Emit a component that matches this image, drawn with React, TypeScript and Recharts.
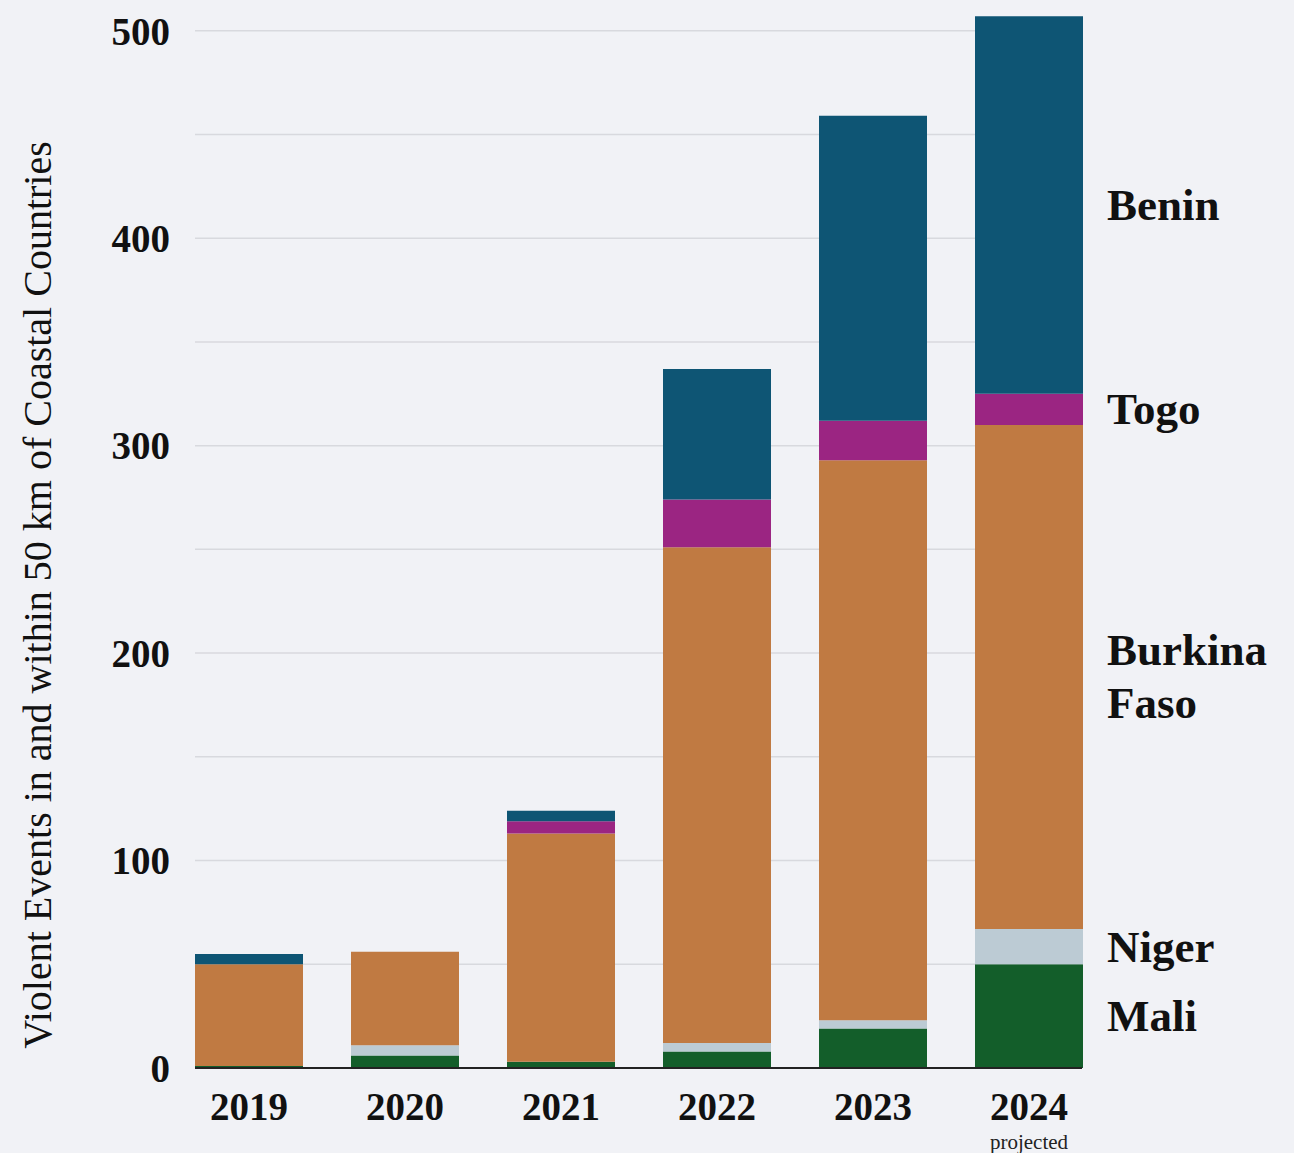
import { BarChart, Bar, XAxis, YAxis, CartesianGrid, LabelList } from 'recharts'

// events per year, stacked bottom to top
const years = ['2019', '2020', '2021', '2022', '2023', '2024']
const mali = [1, 6, 3, 8, 19, 50]
const niger = [0, 5, 0, 4, 4, 17]
const burkina = [49, 45, 110, 239, 270, 243]
const togo = [0, 0, 6, 23, 19, 15]
const benin = [5, 0, 5, 63, 147, 182]

const yMax = 510
const yTicks = [0, 100, 200, 300, 400, 500]
const gridTicks = [50, 100, 150, 200, 250, 300, 350, 400, 450, 500]

const data = years.map((year, i) => ({
  year,
  mali: mali[i],
  niger: niger[i],
  burkina: burkina[i],
  togo: togo[i],
  benin: benin[i],
}))

const series = [
  { key: 'mali', name: ['Mali'], color: '#135e2a' },
  { key: 'niger', name: ['Niger'], color: '#bccbd4' },
  { key: 'burkina', name: ['Burkina', 'Faso'], color: '#c07a42' },
  { key: 'togo', name: ['Togo'], color: '#9b2582' },
  { key: 'benin', name: ['Benin'], color: '#0e5574' },
]

const serif = '"Liberation Serif", "DejaVu Serif", serif'
const lastYear = years[years.length - 1]

const YearTick = (props: any) => {
  const { x, y, payload } = props
  return (
    <g>
      <text x={x} y={y + 50} textAnchor="middle" fontFamily={serif} fontWeight="bold" fontSize={39} fill="#111">
        {payload.value}
      </text>
      {payload.value === lastYear && (
        <text x={x} y={y + 79} textAnchor="middle" fontFamily={serif} fontSize={21} fill="#222">
          projected
        </text>
      )}
    </g>
  )
}

// country name to the right of the last bar's segment
const sideLabel = (lines: string[]) => (props: any) => {
  const { x, y, width, height, value } = props
  if (value !== lastYear) return null
  const cy = Number(y) + Number(height) / 2
  const lh = 53
  const start = cy - ((lines.length - 1) * lh) / 2
  const lx = Number(x) + Number(width) + 24
  return (
    <text x={lx} fontFamily={serif} fontWeight="bold" fontSize={45} fill="#111">
      {lines.map((l, i) => (
        <tspan key={l} x={lx} y={start + i * lh} dominantBaseline="central">
          {l}
        </tspan>
      ))}
    </text>
  )
}

const AxisTitle = () => (
  <text
    x={37}
    y={595}
    transform="rotate(-90 37 595)"
    textAnchor="middle"
    dominantBaseline="central"
    fontFamily={serif}
    fontSize={40}
    fill="#111"
  >
    Violent Events in and within 50 km of Coastal Countries
  </text>
)

export default function App() {
  return (
    <div style={{ position: 'absolute', left: 0, top: 0, width: 1294, height: 1153, background: '#f1f2f6' }}>
      <BarChart width={1294} height={1153} data={data} margin={{ top: 10, right: 212, left: 0, bottom: 0 }}>
        <CartesianGrid
          vertical={false}
          stroke="#d8d9de"
          strokeWidth={1.5}
          horizontalCoordinatesGenerator={({ offset }: any) =>
            gridTicks.map((v) => offset.top + offset.height * (1 - v / yMax))
          }
        />
        <XAxis
          dataKey="year"
          height={85}
          padding={{ left: -24, right: -25 }}
          axisLine={{ stroke: '#222', strokeWidth: 2 }}
          tickLine={false}
          tickSize={0}
          tick={<YearTick />}
          interval={0}
        />
        <YAxis
          width={195}
          domain={[0, yMax]}
          ticks={yTicks}
          allowDataOverflow
          axisLine={false}
          tickLine={false}
          tickSize={0}
          tickMargin={25}
          tick={{ fontFamily: serif, fontWeight: 'bold', fontSize: 39, fill: '#111' }}
          label={<AxisTitle />}
        />
        {series.map((s) => (
          <Bar key={s.key} dataKey={s.key} stackId="a" fill={s.color} barSize={108} isAnimationActive={false}>
            <LabelList
              valueAccessor={(entry: any) => entry?.payload?.year}
              content={sideLabel(s.name)}
            />
          </Bar>
        ))}
      </BarChart>
    </div>
  )
}
